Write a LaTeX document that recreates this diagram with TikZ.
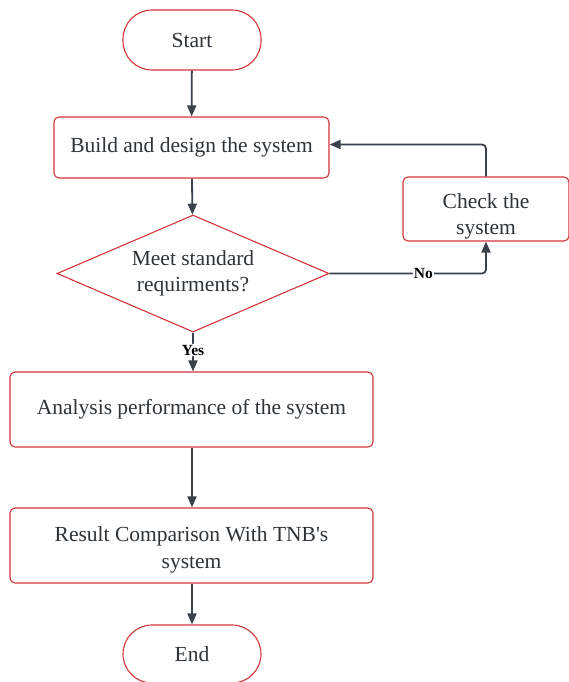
\documentclass[tikz,border=0pt]{standalone}
\usepackage{fontspec}
\setmainfont{Liberation Serif}
\usetikzlibrary{shapes.geometric,arrows.meta}
\definecolor{edge}{HTML}{D2353C}
\definecolor{ink}{HTML}{3A414A}
\definecolor{txt}{HTML}{2E3338}
\tikzset{
  box/.style={draw=edge, line width=1.1pt, rounded corners=5pt, fill=white,
    align=center, text=txt, font=\fontsize{21.5}{26.5}\selectfont, inner sep=0pt},
  term/.style={box, rounded corners=29pt},
  decision/.style={draw=edge, line width=1.1pt, diamond, aspect=2.33, inner sep=0pt,
    align=center, text=txt, font=\fontsize{21.5}{26.5}\selectfont},
  flow/.style={draw=ink, line width=1.8pt, -{Triangle[length=11pt,width=9pt]}, rounded corners=4pt},
  tag/.style={fill=white, inner sep=1pt, text=black, font=\bfseries\fontsize{15.5}{17}\selectfont}
}
\begin{document}
\begin{tikzpicture}[x=1pt,y=-1pt]
\useasboundingbox (0,0) rectangle (569,682);
\node[term, minimum width=138pt, minimum height=60pt] (start) at (192,40) {Start};
\node[box, minimum width=275pt, minimum height=61pt] (build) at (191.5,147.5) {Build and design the system};
\node[box, minimum width=166pt, minimum height=64pt, text height=51pt, text depth=0pt] (check) at (486,209) {Check the\\system};
\node[decision, minimum width=272pt, minimum height=117pt] (meet) at (193,273.5) {Meet standard\\requirments?};
\node[box, minimum width=363pt, minimum height=75pt] (analysis) at (191.5,409.5) {Analysis performance of the system};
\node[box, minimum width=363pt, minimum height=75pt, text height=45pt, text depth=0pt] (result) at (191.5,545.5) {Result Comparison With TNB\textquotesingle s\\system};
\node[term, minimum width=138pt, minimum height=58pt] (end) at (192,654) {End};

\draw[flow] (start) -- (build);
\draw[flow] (build.south -| start) -- (meet);
\draw[flow] (meet.south) -- node[tag, pos=0.45] {Yes} (analysis.north -| meet.south);
\draw[flow] (analysis.south -| start) -- (result.north -| start);
\draw[flow] (result.south -| start) -- (end);
\draw[flow] (meet.east) -- node[tag, pos=0.6] {No} (meet.east -| check.south) -- (check.south);
\draw[flow] (check.north) |- ([yshift=3pt]build.east);
\end{tikzpicture}
\end{document}
